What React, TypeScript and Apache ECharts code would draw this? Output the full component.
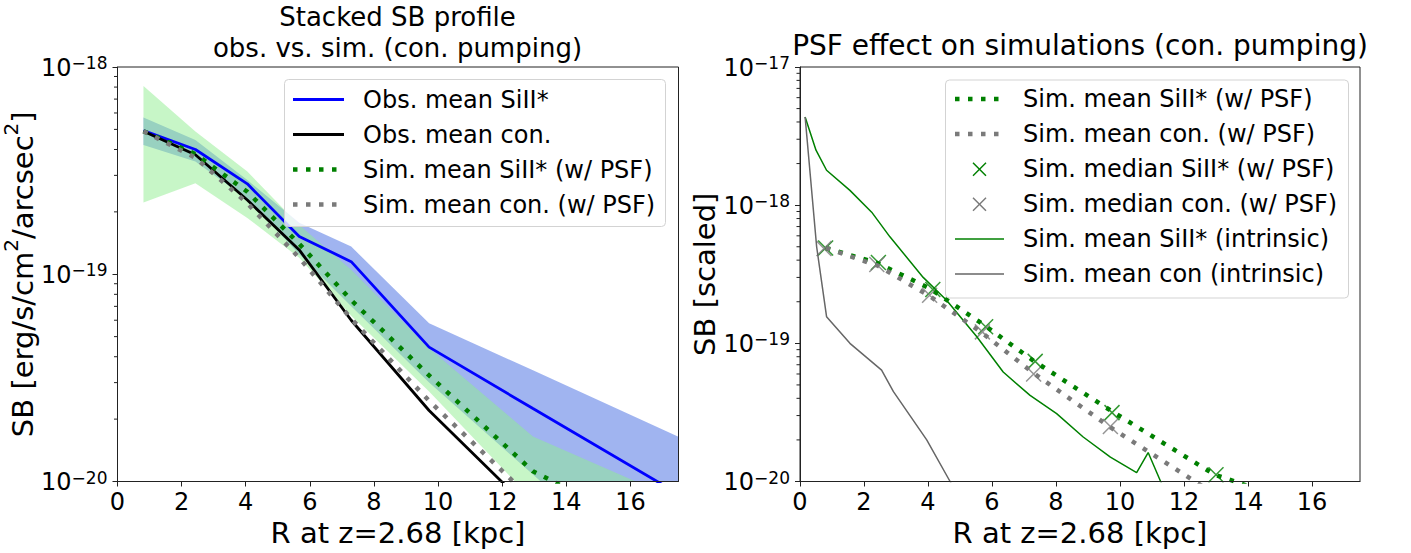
import React, { useEffect, useRef } from "react";
import * as echarts from "echarts";

const FONT = "DejaVu Sans";

// Radial bins (kpc)
const R_BINS = [0.81, 2.43, 4.05, 5.67, 7.29, 9.72, 12.96, 19.44];

// Left panel: observations
const OBS_SIII_MEAN = [4.93e-19, 4.0e-19, 2.73e-19, 1.52e-19, 1.15e-19, 4.45e-20, 2.25e-20, 5.8e-21];
const OBS_CON_MEAN = [4.9e-19, 3.77e-19, 2.28e-19, 1.31e-19, 6.0e-20, 2.2e-20, 7.1e-21];
const OBS_SIII_LOW = [4.2e-19, 3.5e-19, 2.3e-19, 1.25e-19, 7.0e-20, 3.0e-20, 1.08e-20, 1.4e-21];
const OBS_SIII_HIGH = [5.7e-19, 4.44e-19, 2.85e-19, 1.77e-19, 1.36e-19, 5.8e-20, 3.44e-20, 1.2e-20];

// Simulations (w/ PSF)
const SIM_SIII_MEAN = [4.9e-19, 3.8e-19, 2.5e-19, 1.4e-19, 7.5e-20, 3.25e-20, 1.12e-20, 3.5e-21];
const SIM_CON_MEAN = [4.9e-19, 3.65e-19, 2.2e-19, 1.2e-19, 6.1e-20, 2.45e-20, 8.1e-21, 2.5e-21];
const SIM_SIII_LOW = [2.22e-19, 2.75e-19, 1.87e-19, 1.2e-19, 6.3e-20, 2.72e-20, 8.1e-21, 2.0e-21];
const SIM_SIII_HIGH = [8.1e-19, 4.88e-19, 3.13e-19, 1.73e-19, 1.05e-19, 4.4e-20, 1.65e-20, 6.0e-21];

// Right panel: medians (w/ PSF)
const R_MED_SIII = [0.8, 2.45, 4.15, 5.8, 7.35, 9.75, 13.0];
const SIM_SIII_MEDIAN = [4.9e-19, 3.85e-19, 2.45e-19, 1.32e-19, 7.4e-20, 3.15e-20, 1.12e-20];
const R_MED_CON = [0.75, 2.4, 4.05, 5.7, 7.3, 9.7];
const SIM_CON_MEDIAN = [4.85e-19, 3.72e-19, 2.23e-19, 1.21e-19, 6.0e-20, 2.5e-20];

// Right panel: intrinsic profiles
const R_INTR_SIII = [0.16, 0.5, 0.83, 1.56, 2.24, 2.81, 3.85, 4.58, 5.52, 6.35, 7.19, 8.02, 8.85, 9.7, 10.52, 10.88, 11.27, 11.6];
const SIM_SIII_INTR = [4.35e-18, 2.5e-18, 1.79e-18, 1.28e-18, 8.9e-19, 5.9e-19, 3.0e-19, 2.05e-19, 1.12e-19, 6.2e-20, 4.2e-20, 3.1e-20, 2.1e-20, 1.5e-20, 1.16e-20, 1.62e-20, 1.0e-20, 7.0e-21];
const R_INTR_CON = [0.16, 0.52, 0.83, 1.56, 2.55, 2.92, 3.96, 4.69, 5.2];
const SIM_CON_INTR = [4.35e-18, 5.0e-19, 1.56e-19, 1.0e-19, 6.4e-20, 4.47e-20, 2.0e-20, 1.0e-20, 6.0e-21];

const X_TICKS = [0, 2, 4, 6, 8, 10, 12, 14, 16];

const zip = (xs: number[], ys: number[]) => ys.map((y, i) => [xs[i], y]);

const GREEN = "#008000";
const GRAY = "#7a7a7a";
const AX = "#222";

const logFmt = (v: number) => {
  const e = Math.round(Math.log10(v));
  return `{b|10}{s|\u2212${Math.abs(e)}}`;
};

const richTick = {
  b: { fontSize: 24, fontFamily: FONT, color: "#000", lineHeight: 25, verticalAlign: "bottom" },
  s: { fontSize: 17, fontFamily: FONT, color: "#000", lineHeight: 13, verticalAlign: "top" },
};

function minorData(e0: number, e1: number) {
  const out: number[][] = [];
  for (let e = e0; e < e1; e++) for (let k = 2; k <= 9; k++) out.push([0, k * Math.pow(10, e)]);
  return out;
}

const minorSeries = (idx: number, e0: number, e1: number) => ({
  type: "custom",
  xAxisIndex: idx,
  yAxisIndex: idx,
  silent: true,
  clip: false,
  z: 10,
  encode: { x: 0, y: 1 },
  data: minorData(e0, e1),
  renderItem: (params: any, api: any) => {
    const p = api.coord([api.value(0), api.value(1)]);
    return {
      type: "line",
      shape: { x1: p[0] - 3.5, y1: p[1], x2: p[0], y2: p[1] },
      style: { stroke: AX, lineWidth: 1 },
    };
  },
});

const bandSeries = (lo: number[], hi: number[], fill: string) => ({
  type: "custom",
  xAxisIndex: 0,
  yAxisIndex: 0,
  silent: true,
  clip: true,
  encode: { x: 0, y: [1, 2] },
  data: R_BINS.map((r, i) => [r, lo[i], hi[i]]),
  renderItem: (params: any, api: any) => {
    if (params.dataIndex !== 0) return null;
    const pts: number[][] = [];
    for (let i = 0; i < R_BINS.length; i++) pts.push(api.coord([R_BINS[i], hi[i]]));
    for (let i = R_BINS.length - 1; i >= 0; i--) pts.push(api.coord([R_BINS[i], lo[i]]));
    return { type: "polygon", shape: { points: pts }, style: { fill } };
  },
});

const xAxisDef = (idx: number) => ({
  type: "value",
  gridIndex: idx,
  min: 0,
  max: 17.5,
  interval: 2,
  axisLine: { show: true, lineStyle: { color: AX, width: 1 } },
  axisTick: { show: true, length: 5, customValues: X_TICKS, lineStyle: { color: AX, width: 1 } },
  axisLabel: { customValues: X_TICKS, fontSize: 24, fontFamily: FONT, color: "#000", margin: 8 },
  splitLine: { show: false },
  name: "R at z=2.68 [kpc]",
  nameLocation: "middle",
  nameGap: 31,
  nameTextStyle: { fontSize: 29, fontFamily: FONT, color: "#000" },
});

const yAxisDef = (idx: number, min: number, max: number, name: string, nameRich: any) => ({
  type: "log",
  logBase: 10,
  gridIndex: idx,
  min,
  max,
  axisLine: { show: true, lineStyle: { color: AX, width: 1 } },
  axisTick: { show: true, length: 5, lineStyle: { color: AX, width: 1 } },
  axisLabel: { margin: 10, formatter: logFmt, rich: richTick },
  splitLine: { show: false },
  name,
  nameLocation: "middle",
  nameRotate: 90,
  nameGap: 71,
  nameTextStyle: { fontSize: 29, fontFamily: FONT, color: "#000", rich: nameRich },
});

const lineS = (idx: number, data: number[][], color: string, width: number, type: any = "solid") => ({
  type: "line",
  xAxisIndex: idx,
  yAxisIndex: idx,
  data,
  symbol: "none",
  silent: true,
  clip: true,
  lineStyle: { color, width, type, cap: "butt" },
});

const X_PATH = "path://M0,0L10,10M10,0L0,10";
const scatterX = (data: number[][], color: string) => ({
  type: "scatter",
  xAxisIndex: 1,
  yAxisIndex: 1,
  data,
  symbol: X_PATH,
  symbolSize: 15,
  silent: true,
  clip: true,
  itemStyle: { color: "transparent", borderColor: color, borderWidth: 1.5 },
});

const DOT = [4.5, 8.5];

function legendGraphics() {
  const els: any[] = [];
  const txt = (x: number, y: number, text: string) => ({
    type: "text",
    x,
    y,
    z: 101,
    style: { text, fontSize: 24, lineHeight: 26, fontFamily: FONT, fill: "#000", textVerticalAlign: "middle", textAlign: "left" },
  });
  const ln = (x1: number, x2: number, y: number, stroke: string, lineWidth: number, dash?: number[]) => ({
    type: "line",
    z: 101,
    shape: { x1, y1: y, x2, y2: y },
    style: { stroke, lineWidth, lineDash: dash, lineCap: "butt" },
  });
  const cross = (cx: number, cy: number, stroke: string) => {
    const h = 6.5;
    return [
      { type: "line", z: 101, shape: { x1: cx - h, y1: cy - h, x2: cx + h, y2: cy + h }, style: { stroke, lineWidth: 1.5 } },
      { type: "line", z: 101, shape: { x1: cx - h, y1: cy + h, x2: cx + h, y2: cy - h }, style: { stroke, lineWidth: 1.5 } },
    ];
  };
  // left legend
  els.push({
    type: "rect",
    z: 100,
    shape: { x: 284.5, y: 79.5, width: 381, height: 147, r: 4 },
    style: { fill: "rgba(255,255,255,0.8)", stroke: "#d3d3d3", lineWidth: 1 },
  });
  const ly = [99.5, 134.5, 169.5, 204.5];
  els.push(ln(293, 344, ly[0], "#0000ff", 2.8));
  els.push(txt(363, ly[0], "Obs. mean SiII*"));
  els.push(ln(293, 344, ly[1], "#000", 2.8));
  els.push(txt(363, ly[1], "Obs. mean con."));
  els.push(ln(293, 344, ly[2], GREEN, 4.5, DOT));
  els.push(txt(363, ly[2], "Sim. mean SiII* (w/ PSF)"));
  els.push(ln(293, 344, ly[3], GRAY, 4.5, DOT));
  els.push(txt(363, ly[3], "Sim. mean con. (w/ PSF)"));
  // right legend
  els.push({
    type: "rect",
    z: 100,
    shape: { x: 945.5, y: 80, width: 403, height: 218, r: 4 },
    style: { fill: "rgba(255,255,255,0.8)", stroke: "#d3d3d3", lineWidth: 1 },
  });
  const ry = [99, 134, 169.3, 204.3, 239, 274];
  els.push(ln(955, 1004, ry[0], GREEN, 4.5, DOT));
  els.push(txt(1023, ry[0], "Sim. mean SiII* (w/ PSF)"));
  els.push(ln(955, 1004, ry[1], GRAY, 4.5, DOT));
  els.push(txt(1023, ry[1], "Sim. mean con. (w/ PSF)"));
  els.push(...cross(979.5, ry[2], GREEN));
  els.push(txt(1023, ry[2], "Sim. median SiII* (w/ PSF)"));
  els.push(...cross(979.5, ry[3], GRAY));
  els.push(txt(1023, ry[3], "Sim. median con. (w/ PSF)"));
  els.push(ln(955, 1004, ry[4], GREEN, 1.5));
  els.push(txt(1023, ry[4], "Sim. mean SiII* (intrinsic)"));
  els.push(ln(955, 1004, ry[5], "#666", 1.5));
  els.push(txt(1023, ry[5], "Sim. mean con (intrinsic)"));
  return els;
}

const titleText = (x: number, y: number, text: string, size: number, lh: number) => ({
  type: "text",
  x,
  y,
  z: 101,
  style: { text, fontSize: size, lineHeight: lh, fontFamily: FONT, fill: "#000", textAlign: "center", textVerticalAlign: "middle" },
});

const spines = [
  { type: "rect", z: 99, shape: { x: 117.5, y: 67, width: 561, height: 414.5 }, style: { fill: "none", stroke: AX, lineWidth: 1 } },
  { type: "rect", z: 99, shape: { x: 800, y: 67, width: 560, height: 414.5 }, style: { fill: "none", stroke: AX, lineWidth: 1 } },
];

const nameRich = {
  b: { fontSize: 29, fontFamily: FONT, color: "#000", lineHeight: 36, verticalAlign: "bottom" },
  s: { fontSize: 20, fontFamily: FONT, color: "#000", lineHeight: 20, verticalAlign: "top" },
};

const option: any = {
  animation: false,
  textStyle: { fontFamily: FONT },
  grid: [
    { left: 117.5, top: 67, width: 561, height: 414.5 },
    { left: 800, top: 67, width: 560, height: 414.5 },
  ],
  xAxis: [xAxisDef(0), xAxisDef(1)],
  yAxis: [
    yAxisDef(0, 1e-20, 1e-18, "{b|SB [erg/s/cm}{s|2}{b|/arcsec}{s|2}{b|]}", nameRich),
    { ...yAxisDef(1, 1e-20, 1e-17, "SB [scaled]", undefined), nameGap: 70 },
  ],
  series: [
    lineS(0, zip(R_BINS, OBS_SIII_MEAN), "#0000ff", 2.8),
    lineS(0, zip(R_BINS, OBS_CON_MEAN), "#000", 2.8),
    bandSeries(OBS_SIII_LOW, OBS_SIII_HIGH, "rgba(65,105,225,0.5)"),
    bandSeries(SIM_SIII_LOW, SIM_SIII_HIGH, "rgba(144,238,144,0.5)"),
    lineS(0, zip(R_BINS, SIM_SIII_MEAN), GREEN, 4.5, DOT),
    lineS(0, zip(R_BINS, SIM_CON_MEAN), GRAY, 4.5, DOT),
    minorSeries(0, -20, -18),

    lineS(1, zip(R_INTR_SIII, SIM_SIII_INTR), GREEN, 1.5),
    lineS(1, zip(R_INTR_CON, SIM_CON_INTR), "#666", 1.5),
    lineS(1, zip(R_BINS, SIM_SIII_MEAN), GREEN, 4.5, DOT),
    lineS(1, zip(R_BINS, SIM_CON_MEAN), GRAY, 4.5, DOT),
    scatterX(zip(R_MED_SIII, SIM_SIII_MEDIAN), GREEN),
    scatterX(zip(R_MED_CON, SIM_CON_MEDIAN), GRAY),
    minorSeries(1, -20, -17),
  ],
  graphic: [
    titleText(397.5, 32, "Stacked SB profile\nobs. vs. sim. (con. pumping)", 26, 31),
    titleText(1080, 45, "PSF effect on simulations (con. pumping)", 28, 28),
    ...spines,
    ...legendGraphics(),
  ],
};

export default function App() {
  const ref = useRef<HTMLDivElement>(null);
  useEffect(() => {
    const chart = echarts.init(ref.current!, null, { renderer: "svg" });
    chart.setOption(option);
    return () => chart.dispose();
  }, []);
  return (
    <div
      ref={ref}
      style={{ position: "fixed", left: 0, top: 0, width: 1411, height: 553, background: "#fff" }}
    />
  );
}
